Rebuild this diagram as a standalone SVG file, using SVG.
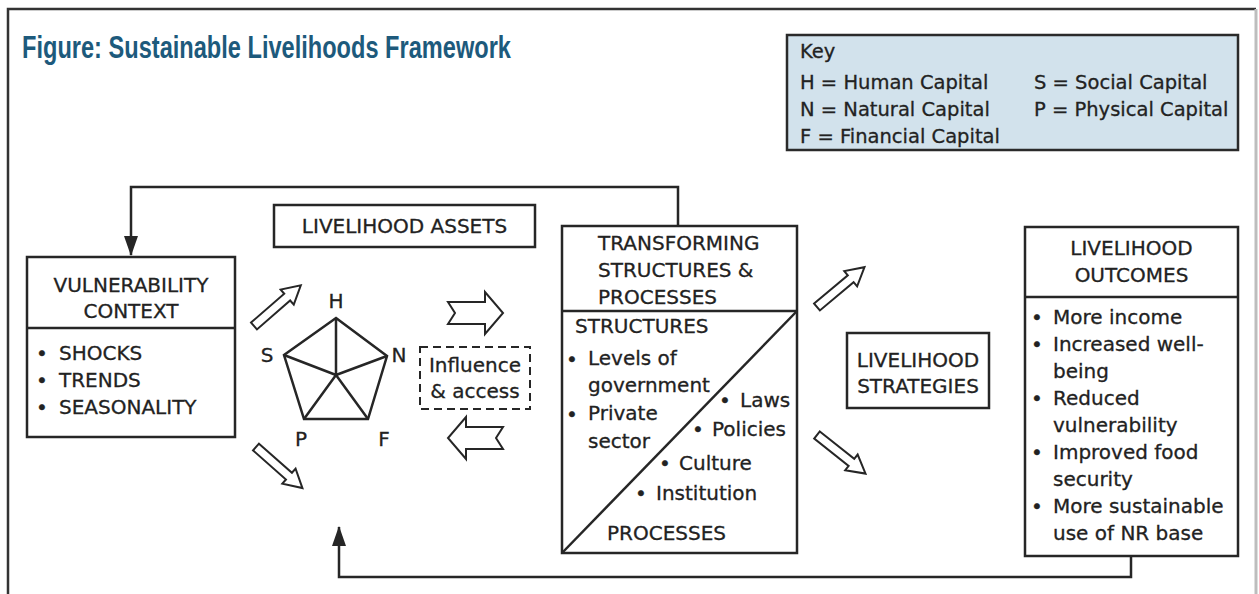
<svg xmlns="http://www.w3.org/2000/svg" width="1259" height="594" viewBox="0 0 1259 594">
  <style>
    .bg { fill: #ffffff; }
    .box { fill: #ffffff; stroke: #262626; stroke-width: 2.5; }
    .ln { fill: none; stroke: #262626; stroke-width: 2.5; }
    .conn { fill: none; stroke: #262626; stroke-width: 2.5; }
    .blk { fill: #ffffff; stroke: #262626; stroke-width: 2; stroke-linejoin: miter; }
    .t { font-family: "DejaVu Sans", "Liberation Sans", sans-serif; font-size: 20px; fill: #222222; stroke: #222222; stroke-width: 0.3; }
    .c { text-anchor: middle; }
    .k { font-family: "DejaVu Sans", "Liberation Sans", sans-serif; font-size: 19.5px; fill: #222222; stroke: #222222; stroke-width: 0.3; }
    .title { font-family: "Liberation Sans", Arial, sans-serif; font-weight: bold; font-size: 31px; fill: #1d5a7c; }
  </style>
  <defs>
    <marker id="tip" markerUnits="userSpaceOnUse" markerWidth="20" markerHeight="14" viewBox="0 0 20 14" refX="19" refY="7" orient="auto">
      <path d="M0,0 L20,7 L0,14 Z" fill="#262626"/>
    </marker>
    <!-- hollow block arrow, tail at origin, pointing along +x -->
    <path id="fat" d="M0,-11 L37,-11 L37,-21 L55,0 L37,21 L37,11 L0,11 L7,0 Z"/>
    <!-- slim hollow arrow used on the diagonals -->
    <path id="slim" d="M0,-4.5 L44,-4.5 L44,-10 L62,0 L44,10 L44,4.5 L0,4.5 Z"/>
  </defs>

  <rect class="bg" x="0" y="0" width="1259" height="594"/>

  <!-- outer frame -->
  <path d="M8,594 V9 H1256" fill="none" stroke="#333" stroke-width="2.5"/>
  <line x1="1256" y1="9" x2="1256" y2="594" stroke="#bdbdbd" stroke-width="3"/>

  <text class="title" x="22" y="58" textLength="489" lengthAdjust="spacingAndGlyphs">Figure: Sustainable Livelihoods Framework</text>

  <!-- key -->
  <g id="key">
    <rect x="787" y="35" width="451" height="115" fill="#d2e2ec" stroke="#2a2a2a" stroke-width="2.5"/>
    <text class="k" x="800" y="58">Key</text>
    <text class="k" x="800" y="89">H = Human Capital</text>
    <text class="k" x="800" y="116">N = Natural Capital</text>
    <text class="k" x="800" y="143">F = Financial Capital</text>
    <text class="k" x="1034" y="89">S = Social Capital</text>
    <text class="k" x="1034" y="116">P = Physical Capital</text>
  </g>

  <!-- connectors -->
  <g id="connectors">
    <path class="conn" d="M678,226 V187 H131 V255" marker-end="url(#tip)"/>
    <path class="conn" d="M1131,556 V577 H339 V527" marker-end="url(#tip)"/>
    <use href="#fat" class="blk" transform="translate(448,313)"/>
    <use href="#fat" class="blk" transform="translate(503,438) rotate(180)"/>
    <use href="#slim" class="blk" transform="translate(254,326) rotate(-41)"/>
    <use href="#slim" class="blk" transform="translate(256,447) rotate(41.5)"/>
    <use href="#slim" class="blk" transform="translate(817,307) rotate(-40)"/>
    <use href="#slim" class="blk" transform="translate(817,435) rotate(38.5)"/>
  </g>

  <!-- vulnerability context -->
  <g id="vulnerability">
    <rect class="box" x="27" y="257" width="208" height="180"/>
    <line class="ln" x1="27" y1="328" x2="235" y2="328"/>
    <text class="t c" x="131" y="292">VULNERABILITY</text>
    <text class="t c" x="131" y="318">CONTEXT</text>
    <text class="t"><tspan x="36" y="360">•</tspan><tspan x="59" y="360">SHOCKS</tspan></text>
    <text class="t"><tspan x="36" y="387">•</tspan><tspan x="59" y="387">TRENDS</tspan></text>
    <text class="t"><tspan x="36" y="414">•</tspan><tspan x="59" y="414">SEASONALITY</tspan></text>
  </g>

  <!-- livelihood assets -->
  <g id="assets">
    <rect class="box" x="274" y="205" width="261" height="42"/>
    <text class="t c" x="404.5" y="233">LIVELIHOOD ASSETS</text>
  </g>

  <!-- asset pentagon -->
  <g id="pentagon">
    <polygon class="ln" points="336,318 387,356 368,419 304,419 284,355"/>
    <path class="ln" d="M336,375 L336,318 M336,375 L387,356 M336,375 L368,419 M336,375 L304,419 M336,375 L284,355"/>
    <text class="t c" x="336" y="308">H</text>
    <text class="t c" x="267" y="362">S</text>
    <text class="t c" x="399" y="362">N</text>
    <text class="t c" x="301" y="446">P</text>
    <text class="t c" x="384" y="446">F</text>
  </g>

  <!-- influence and access -->
  <g id="influence">
    <rect x="420" y="347" width="110" height="62" fill="#ffffff" stroke="#262626" stroke-width="2" stroke-dasharray="8 5"/>
    <text class="t c" x="475" y="372">Influence</text>
    <text class="t c" x="475" y="398">&amp; access</text>
  </g>

  <!-- transforming structures and processes -->
  <g id="transforming">
    <rect class="box" x="562" y="226" width="235" height="327"/>
    <line class="ln" x1="562" y1="311" x2="797" y2="311"/>
    <line class="ln" x1="562" y1="553" x2="797" y2="311"/>
    <text class="t" x="598" y="250">TRANSFORMING</text>
    <text class="t" x="598" y="277">STRUCTURES &amp;</text>
    <text class="t" x="598" y="304">PROCESSES</text>
    <text class="t" x="575" y="333">STRUCTURES</text>
    <text class="t"><tspan x="566" y="366">•</tspan><tspan x="588" y="365">Levels of</tspan></text>
    <text class="t" x="588" y="392">government</text>
    <text class="t"><tspan x="566" y="421">•</tspan><tspan x="588" y="420">Private</tspan></text>
    <text class="t" x="588" y="448">sector</text>
    <text class="t"><tspan x="719" y="407">•</tspan><tspan x="740" y="407">Laws</tspan></text>
    <text class="t"><tspan x="692" y="436">•</tspan><tspan x="712" y="436">Policies</tspan></text>
    <text class="t"><tspan x="659" y="470">•</tspan><tspan x="679" y="470">Culture</tspan></text>
    <text class="t"><tspan x="635" y="500">•</tspan><tspan x="656" y="500">Institution</tspan></text>
    <text class="t" x="607" y="540">PROCESSES</text>
  </g>

  <!-- livelihood strategies -->
  <g id="strategies">
    <rect class="box" x="847" y="333" width="142" height="75"/>
    <text class="t c" x="918" y="367">LIVELIHOOD</text>
    <text class="t c" x="918" y="393">STRATEGIES</text>
  </g>

  <!-- livelihood outcomes -->
  <g id="outcomes">
    <rect class="box" x="1025" y="227" width="213" height="329"/>
    <line class="ln" x1="1025" y1="297" x2="1238" y2="297"/>
    <text class="t c" x="1131.5" y="255">LIVELIHOOD</text>
    <text class="t c" x="1131.5" y="282">OUTCOMES</text>
    <text class="t"><tspan x="1031" y="324">•</tspan><tspan x="1053" y="324">More income</tspan></text>
    <text class="t"><tspan x="1031" y="351">•</tspan><tspan x="1053" y="351">Increased well-</tspan></text>
    <text class="t" x="1053" y="378">being</text>
    <text class="t"><tspan x="1031" y="405">•</tspan><tspan x="1053" y="405">Reduced</tspan></text>
    <text class="t" x="1053" y="432">vulnerability</text>
    <text class="t"><tspan x="1031" y="459">•</tspan><tspan x="1053" y="459">Improved food</tspan></text>
    <text class="t" x="1053" y="486">security</text>
    <text class="t"><tspan x="1031" y="513">•</tspan><tspan x="1053" y="513">More sustainable</tspan></text>
    <text class="t" x="1053" y="540">use of NR base</text>
  </g>
</svg>
